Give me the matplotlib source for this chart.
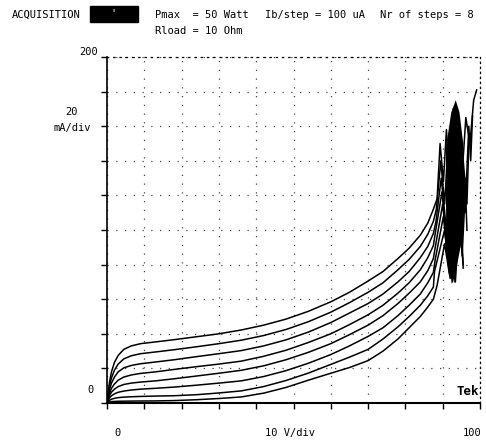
import numpy as np
import matplotlib
matplotlib.use("Agg")
import matplotlib.pyplot as plt
from matplotlib.patches import Rectangle

# collector voltage (V) where each trace was read
volts = [0, 0.3, 0.7, 1.2, 2, 3, 4.5, 6.5, 9, 13, 18, 24, 30, 36, 42, 48,
         54, 60, 65, 70, 74, 78, 81, 84, 86, 87.5]

# collector current (mA), one list per base step, top trace first
ic_8 = [0, 6, 12.5, 18, 23.5, 27.5, 31, 33, 34.3, 35.3, 36.6, 38.3, 40, 42.2,
        45, 48.5, 53, 58.5, 64, 70.5, 76, 83.5, 89.5, 97, 104, 112]
ic_7 = [0, 5, 10, 14.5, 19, 22.5, 25.5, 27.3, 28.5, 29.5, 30.8, 32.5, 34.3,
        36.3, 39, 42.5, 47, 52.5, 58, 64, 69.5, 77, 83, 90.5, 97.5, 105]
ic_6 = [0, 4, 8, 11.5, 15, 18, 20.3, 21.7, 22.7, 23.7, 25, 26.8, 28.5, 30.3,
        33, 36.5, 41, 46.5, 52, 57.5, 63, 70, 76, 84, 90.5, 98]
ic_5 = [0, 3, 6, 8.5, 11, 13.2, 15, 16.2, 17.1, 18, 19.4, 21, 22.5, 24.2,
        27, 30.5, 35, 40, 45.3, 51, 56.5, 63.5, 69.5, 77, 84, 91]
ic_4 = [0, 2.3, 4.5, 6.3, 8, 9.5, 10.7, 11.5, 12.1, 12.8, 14, 15.6, 17.2,
        18.9, 21.5, 25, 29.3, 34.3, 39.5, 45, 50.5, 57.5, 63.5, 70, 76.5, 83.5]
ic_3 = [0, 1.6, 3, 4.2, 5.3, 6.2, 6.9, 7.5, 8, 8.5, 9.2, 10.3, 11.5, 12.8,
        15.3, 18.7, 23, 28, 33, 38.5, 43.5, 50.5, 56.5, 63, 69.5, 75.5]
ic_2 = [0, 0.8, 1.6, 2.2, 2.7, 3.1, 3.4, 3.6, 3.8, 4, 4.2, 4.8, 5.8, 7,
        9.5, 13, 17.3, 22.3, 26.5, 31, 37, 44, 50, 56.5, 62, 67]
ic_1 = [0, 0.3, 0.6, 0.8, 0.9, 1, 1.05, 1.1, 1.15, 1.2, 1.4, 1.9, 2.6, 3.5,
        5.7, 9, 13.2, 17.2, 20.5, 24.5, 30, 37, 43.5, 50, 55.5, 60]

# breakdown part of every trace (V, mA)
tail_v_8 = [88.5, 89.3, 90.2, 91, 92, 92.8, 93.5, 94.2, 95, 96.2, 97.3, 98.3, 99.1]
tail_i_8 = [118, 150, 128, 158, 120, 170, 105, 160, 125, 165, 150, 175, 181]
tail_v_7 = [88.3, 89.5, 90.5, 91.5, 92.5, 93.2, 94, 94.8, 96, 97, 97.5, 98]
tail_i_7 = [112, 140, 115, 150, 100, 165, 90, 150, 110, 160, 140, 166]
tail_v_6 = [88.2, 89.6, 91, 92, 92.8, 93.5, 94.5, 95.5, 96.5, 97]
tail_i_6 = [105, 130, 100, 150, 85, 160, 95, 140, 115, 150]
tail_v_5 = [88, 89.8, 91, 92.2, 93, 93.8, 95, 96, 96.5]
tail_i_5 = [98, 122, 95, 140, 80, 150, 90, 130, 100]
tail_v_4 = [88, 90, 91.2, 92.3, 93, 94, 95.2, 96]
tail_i_4 = [90, 115, 88, 135, 75, 140, 85, 120]
tail_v_3 = [88, 90.2, 91.5, 92.5, 93.2, 94.2, 95.5]
tail_i_3 = [83, 108, 80, 125, 72, 130, 80]
tail_v_2 = [87.8, 90.5, 91.8, 92.6, 93.3, 94.3, 95.5]
tail_i_2 = [76, 100, 75, 115, 70, 120, 78]
tail_v_1 = [88.5, 90.5, 92, 92.8, 93.4, 94.5]
tail_i_1 = [68, 92, 72, 105, 70, 110]

# outline of the solid black blob in the breakdown area
blob_v = [92.4, 91.2, 90.8, 90.9, 92.3, 93.5, 94.5, 95.5, 95.9, 95.2, 93.7, 92.8]
blob_i = [69, 92, 120, 148, 168, 175, 168, 150, 120, 95, 78, 70]

traces = [(ic_8, tail_v_8, tail_i_8), (ic_7, tail_v_7, tail_i_7),
          (ic_6, tail_v_6, tail_i_6), (ic_5, tail_v_5, tail_i_5),
          (ic_4, tail_v_4, tail_i_4), (ic_3, tail_v_3, tail_i_3),
          (ic_2, tail_v_2, tail_i_2), (ic_1, tail_v_1, tail_i_1)]

mono = "DejaVu Sans Mono"
fs = 7.5

fig = plt.figure(figsize=(4.86, 4.40), dpi=100)
ax = fig.add_axes([107 / 486, 1 - 403 / 440, 373 / 486, 346 / 440])

for ic, tv, ti in traces:
    ax.plot(volts + tv, ic + ti, color="black", lw=1.1)
ax.fill(blob_v, blob_i, color="black", lw=0)

ax.set_xlim(0, 100)
ax.set_ylim(0, 200)
ax.set_xticks(np.arange(0, 101, 10))
ax.set_yticks(np.arange(0, 201, 20))
ax.tick_params(direction="out", length=4, width=1, labelbottom=False, labelleft=False)
ax.grid(True, color="#444444", linestyle=(0, (1, 6)), lw=0.9)
ax.spines["top"].set_linestyle((0, (1, 4)))
ax.spines["right"].set_linestyle((0, (1, 3)))
ax.spines["top"].set_linewidth(0.9)
ax.spines["right"].set_linewidth(0.9)
ax.spines["left"].set_linewidth(1.2)
ax.spines["bottom"].set_linewidth(1.5)

# scale texts
kw = dict(family=mono, fontsize=fs, clip_on=False)
ax.text(-2.5, 203, "200", ha="right", va="center", **kw)
ax.text(-9.4, 168, "20", ha="center", va="center", **kw)
ax.text(-9.4, 159, "mA/div", ha="center", va="center", **kw)
ax.text(-3.5, 7.5, "0", ha="right", va="center", **kw)
ax.text(2.7, -17.5, "0", ha="center", va="center", **kw)
ax.text(49, -17.5, "10 V/div", ha="center", va="center", **kw)
ax.text(98, -17.5, "100", ha="center", va="center", **kw)
ax.text(96.8, 6.4, "Tek", ha="center", va="center", family=mono,
        fontsize=9, fontweight="bold")

# header
fig.text(12 / 486, 1 - 15 / 440, "ACQUISITION", family=mono, fontsize=fs, va="center")
fig.patches.append(Rectangle((90 / 486, 1 - 22 / 440), 48 / 486, 16 / 440,
                             transform=fig.transFigure, color="black"))
fig.text(113 / 486, 1 - 13 / 440, "'", family=mono, fontsize=fs, color="white",
         ha="center", va="center")
fig.text(155 / 486, 1 - 15 / 440, "Pmax  = 50 Watt", family=mono, fontsize=fs, va="center")
fig.text(265 / 486, 1 - 15 / 440, "Ib/step = 100 uA", family=mono, fontsize=fs, va="center")
fig.text(380 / 486, 1 - 15 / 440, "Nr of steps = 8", family=mono, fontsize=fs, va="center")
fig.text(155 / 486, 1 - 31 / 440, "Rload = 10 Ohm", family=mono, fontsize=fs, va="center")

fig.savefig("out.png", dpi=100)
